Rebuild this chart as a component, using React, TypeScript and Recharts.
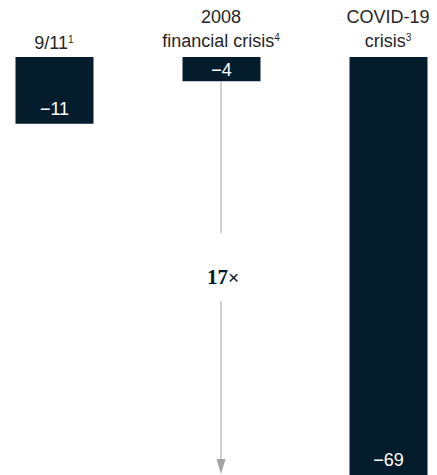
import { BarChart, Bar, XAxis, YAxis, LabelList, ReferenceLine } from "recharts";

// decline per crisis, index 0..2
const categoryLines = [["9/11"], ["2008", "financial crisis"], ["COVID-19", "crisis"]];
const footnotes = ["1", "4", "3"];
const values = [-11, -4, -69];
const multiple = "17";

const data = values.map((v, i) => ({ idx: i, value: v }));

const NAVY = "#051C2C";
const FONT = "'Liberation Sans', Arial, Helvetica, sans-serif";

function CategoryTick(props: any) {
  const { x, y, payload } = props;
  const i = payload.value as number;
  const lines = categoryLines[i] || [];
  return (
    <g>
      {lines.map((ln, k) => {
        const isLast = k === lines.length - 1;
        return (
          <text
            key={k}
            x={x}
            y={y - (lines.length - 1 - k) * 24 - (lines.length > 1 ? 2 : 0)}
            textAnchor="middle"
            fontFamily={FONT}
            fontSize={18}
            fill="#262626"
          >
            {ln}
            {isLast && (
              <tspan fontSize={10} dy={-6}>
                {footnotes[i]}
              </tspan>
            )}
          </text>
        );
      })}
    </g>
  );
}

function ValueLabel(props: any) {
  const { x, y, width, height, value } = props;
  const top = Math.min(y, y + height);
  const bottom = Math.max(y, y + height);
  const h = bottom - top;
  const baseline = h < 35 ? top + h / 2 + 6.5 : bottom - 9;
  return (
    <text
      x={x + width / 2}
      y={baseline}
      textAnchor="middle"
      fontFamily={FONT}
      fontSize={18}
      fill="#ffffff"
    >
      {"\u2212" + Math.abs(value)}
    </text>
  );
}

function Arrow(props: any) {
  const { x1, y1, y2 } = props;
  const mid = (y1 + y2) / 2;
  const tip = y2 - 1;
  const col = "#a3a3a3";
  return (
    <g>
      <line x1={x1} x2={x1} y1={y1} y2={mid - 45} stroke={col} strokeWidth={1} />
      <line x1={x1} x2={x1} y1={mid + 23} y2={tip - 12} stroke={col} strokeWidth={1} />
      <polygon points={`${x1 - 4.5},${tip - 15} ${x1 + 4.5},${tip - 15} ${x1},${tip}`} fill={col} />
      <text x={x1 + 2} y={mid + 6} textAnchor="middle" fill={NAVY}>
        <tspan fontFamily="'Liberation Serif', 'Times New Roman', serif" fontWeight={700} fontSize={21}>
          {multiple}
        </tspan>
        <tspan fontFamily={FONT} fontSize={19}>
          ×
        </tspan>
      </text>
    </g>
  );
}

export default function App() {
  return (
    <BarChart
      width={429}
      height={467}
      data={data}
      margin={{ top: 0, right: 49, bottom: 0, left: 46 }}
    >
      <XAxis
        dataKey="idx"
        type="number"
        domain={[0, 2]}
        ticks={[0, 1, 2]}
        orientation="top"
        height={49}
        axisLine={false}
        tickLine={false}
        tickSize={0}
        tickMargin={8}
        interval={0}
        tick={<CategoryTick />}
      />
      <YAxis hide domain={[-69, 0]} />
      <Bar dataKey="value" fill={NAVY} barSize={78} isAnimationActive={false}>
        <LabelList dataKey="value" content={<ValueLabel />} />
      </Bar>
      <ReferenceLine
        segment={[
          { x: 1, y: values[1] },
          { x: 1, y: values[2] },
        ]}
        shape={<Arrow />}
      />
    </BarChart>
  );
}
